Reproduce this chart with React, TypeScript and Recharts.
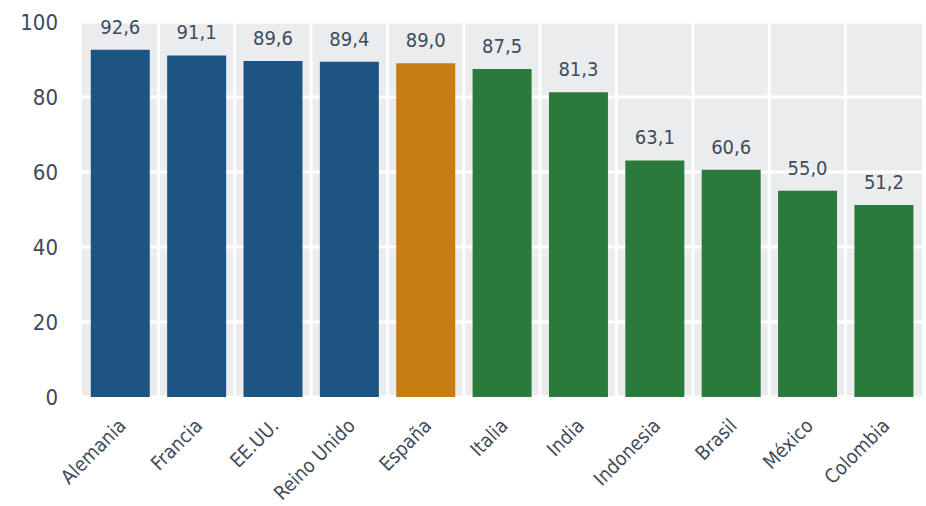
import React from "react";
import { BarChart, Bar, XAxis, YAxis, CartesianGrid, Cell, LabelList } from "recharts";

const categories = ["Alemania", "Francia", "EE.UU.", "Reino Unido", "España", "Italia", "India", "Indonesia", "Brasil", "México", "Colombia"];
const values = [92.6, 91.1, 89.6, 89.4, 89.0, 87.5, 81.3, 63.1, 60.6, 55.0, 51.2];
const groups = ["a", "a", "a", "a", "b", "c", "c", "c", "c", "c", "c"];
const yTicks = [0, 20, 40, 60, 80, 100];

const groupColors: Record<string, string> = { a: "#1c5583", b: "#c57c10", c: "#2a7b3b" };
const textColor = "#3e4b5a";
const font = "'DejaVu Sans Condensed', 'DejaVu Sans', sans-serif";

const data = categories.map((name, i) => ({ name, value: values[i], group: groups[i] }));

const XTick = (props: any) => {
  const { x, y, payload } = props;
  return (
    <g transform={`translate(${x + 7},${y + 24})`}>
      <text x={0} y={0} textAnchor="end" transform="rotate(-45)" fill={textColor} fontSize={19.5} fontFamily={font}>
        {payload.value}
      </text>
    </g>
  );
};

export default function App() {
  const vGen = (props: any) => {
    const off = props.offset;
    const n = categories.length;
    const pts: number[] = [];
    for (let i = 1; i < n; i++) pts.push(off.left + (off.width * i) / n);
    return pts;
  };
  return (
    <div style={{ position: "absolute", left: 0, top: 0 }}>
      <BarChart width={926} height={506} data={data} margin={{ top: 22, right: 4, left: 0, bottom: 0 }} barCategoryGap="11.5%">
        <CartesianGrid fill="#ebecee" stroke="#ffffff" strokeWidth={3} verticalCoordinatesGenerator={vGen} />
        <XAxis dataKey="name" axisLine={false} tickLine={false} height={109} interval={0} tick={<XTick />} tickSize={4} />
        <YAxis domain={[0, 100]} ticks={yTicks} axisLine={false} tickLine={false} width={82} tickSize={0} tickMargin={24}
          tick={{ fill: textColor, fontSize: 22, fontFamily: font }} />
        <Bar dataKey="value" isAnimationActive={false}>
          {data.map((d, i) => (
            <Cell key={i} fill={groupColors[d.group]} />
          ))}
          <LabelList dataKey="value" position="top" offset={16} formatter={(v: any) => Number(v).toFixed(1).replace(".", ",")}
            style={{ fill: textColor, fontSize: 20, fontFamily: font }} />
        </Bar>
      </BarChart>
    </div>
  );
}
